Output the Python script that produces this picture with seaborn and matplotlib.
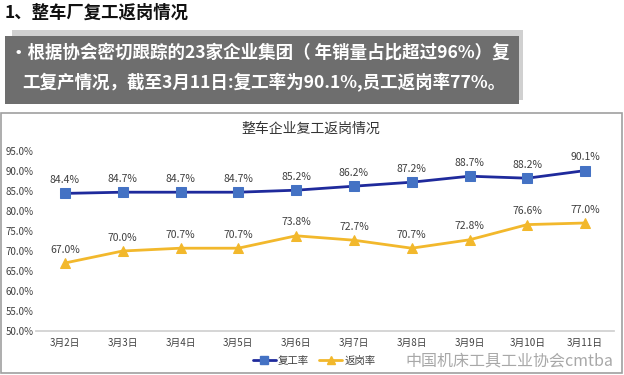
import pandas as pd
import matplotlib.pyplot as plt
import matplotlib.patches as mpatches
import seaborn as sns

# 数据
dates = ['3月2日', '3月3日', '3月4日', '3月5日', '3月6日', '3月7日', '3月8日', '3月9日', '3月10日', '3月11日']
fugong = [84.4, 84.7, 84.7, 84.7, 85.2, 86.2, 87.2, 88.7, 88.2, 90.1]
fangang = [67.0, 70.0, 70.7, 70.7, 73.8, 72.7, 70.7, 72.8, 76.6, 77.0]
y_ticks = [50, 55, 60, 65, 70, 75, 80, 85, 90, 95]

sns.set_theme(style='white')
plt.rcParams['font.family'] = ['Noto Sans CJK SC', 'DejaVu Sans']

W, H = 624, 375
fig = plt.figure(figsize=(W / 100, H / 100), dpi=100)

def fx(px):
    return px / W

def fy(py):
    return 1 - py / H

# 标题
fig.text(fx(5), fy(13), '1、整车厂复工返岗情况', fontsize=12.5, fontweight='bold',
         color='#111111', ha='left', va='center')

# 灰色说明框 (阴影 + 深灰框)
fig.patches.append(mpatches.Rectangle((fx(12), fy(100)), fx(511), 70 / H, transform=fig.transFigure,
                                      facecolor='#d0d0d0', edgecolor='none', zorder=0))
fig.patches.append(mpatches.Rectangle((fx(5), fy(104)), fx(514), 68 / H, transform=fig.transFigure,
                                      facecolor='#6e6e6e', edgecolor='none', zorder=1))
fig.text(fx(10), fy(53), '·根据协会密切跟踪的23家企业集团（ 年销量占比超过96%）复',
         fontsize=12.6, fontweight='bold', color='white', ha='left', va='center', zorder=2)
fig.text(fx(22), fy(83), '工复产情况，截至3月11日:复工率为90.1%,员工返岗率77%。',
         fontsize=12.6, fontweight='bold', color='white', ha='left', va='center', zorder=2)

# 图表外框
fig.patches.append(mpatches.Rectangle((fx(1), fy(373)), fx(621), 260 / H, transform=fig.transFigure,
                                      facecolor='white', edgecolor='#a0a0a0', linewidth=1.2, zorder=0))
fig.text(fx(311), fy(129), '整车企业复工返岗情况', fontsize=10, fontweight='medium',
         color='#333333', ha='center', va='center', zorder=2)

ax = fig.add_axes([fx(36), fy(331), fx(578), 180 / H])
ax.set_zorder(3)
ax.set_facecolor('none')

df = pd.DataFrame({
    'x': list(range(len(dates))) * 2,
    'val': fugong + fangang,
    'series': ['复工率'] * len(dates) + ['返岗率'] * len(dates),
})
palette = {'复工率': '#1f2a9c', '返岗率': '#f2b82c'}
sns.lineplot(data=df, x='x', y='val', hue='series', style='series', palette=palette,
             markers={'复工率': 's', '返岗率': '^'}, dashes=False, linewidth=2,
             markersize=7, ax=ax, legend=False)
for line, mcol in zip(ax.lines, ['#4472c4', '#f2b82c']):
    line.set_markerfacecolor(mcol)
    line.set_markeredgecolor(mcol)

for i, v in enumerate(fugong):
    ax.annotate(f'{v:.1f}%', (i, v), xytext=(0, 6), textcoords='offset points',
                ha='center', va='bottom', fontsize=7.5, color='#404040')
for i, v in enumerate(fangang):
    ax.annotate(f'{v:.1f}%', (i, v), xytext=(0, 6), textcoords='offset points',
                ha='center', va='bottom', fontsize=7.5, color='#404040')

ax.set_xlim(-0.5, len(dates) - 0.5)
ax.set_ylim(50, 95)
ax.set_yticks(y_ticks)
ax.set_yticklabels([f'{t:.1f}%' for t in y_ticks], fontsize=7, color='#404040')
ax.set_xticks(range(len(dates)))
ax.set_xticklabels(dates, fontsize=7, color='#404040', fontweight='medium')
ax.set_xticks([i + 0.5 for i in range(-1, len(dates))], minor=True)
ax.tick_params(axis='x', which='major', length=0, pad=5)
ax.tick_params(axis='x', which='minor', length=3, color='#d0d0d0', direction='out')
ax.tick_params(axis='y', length=0, pad=2)
ax.set_xlabel('')
ax.set_ylabel('')
for side in ['top', 'right', 'left']:
    ax.spines[side].set_visible(False)
ax.spines['bottom'].set_color('#d0d0d0')
ax.grid(False)

# 图例
handles = [
    plt.Line2D([], [], color='#1f2a9c', lw=2, marker='s', markersize=6,
               markerfacecolor='#4472c4', markeredgecolor='#4472c4'),
    plt.Line2D([], [], color='#f2b82c', lw=2, marker='^', markersize=6,
               markerfacecolor='#f2b82c', markeredgecolor='#f2b82c'),
]
leg = fig.legend(handles, ['复工率', '返岗率'], loc='center', bbox_to_anchor=(fx(314), fy(361)),
                 ncol=2, frameon=False, fontsize=7.5, handlelength=2.2, handletextpad=0.2,
                 columnspacing=1.0, labelcolor='#404040')
leg.set_zorder(3)

# 水印
fig.text(fx(613), fy(361), '中国机床工具工业协会cmtba', fontsize=11.5, color='#a8a8a8',
         ha='right', va='center', zorder=3)

fig.savefig('out.png', dpi=100)
